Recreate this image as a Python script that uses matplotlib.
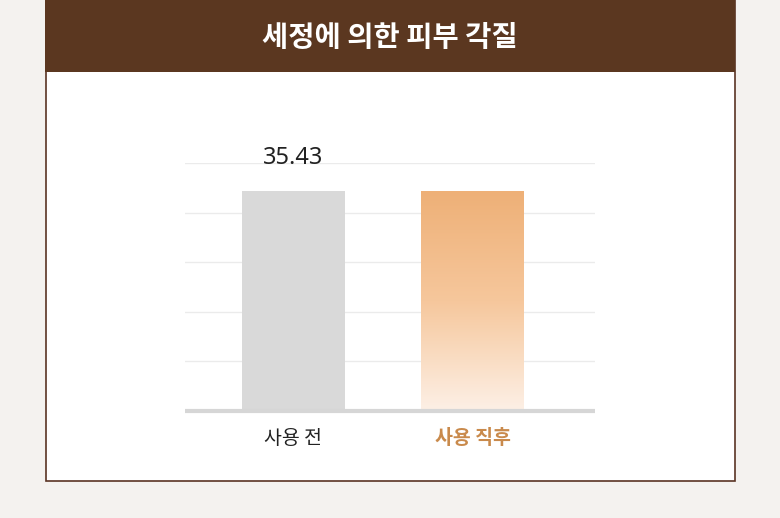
import matplotlib
matplotlib.use("Agg")
import matplotlib.pyplot as plt
import numpy as np
from matplotlib.patches import Rectangle
from matplotlib.colors import LinearSegmentedColormap

plt.rcParams['font.family'] = ['Noto Sans CJK KR', 'DejaVu Sans']

title = "세정에 의한 피부 각질"
categories = ["사용 전", "사용 직후"]
values = [35.43, 35.43]
value_labels = ["35.43", ""]
y_ticks = [0, 8, 16, 24, 32, 40]

W, H = 780, 518
fig = plt.figure(figsize=(W / 100, H / 100), dpi=100)
fig.patch.set_facecolor("#f4f2ef")

def fx(px):
    return px / W

def fy(py):
    return 1 - py / H

# card
fig.add_artist(Rectangle((fx(45.5), fy(481)), fx(689), 481 / H, transform=fig.transFigure,
                         facecolor="white", edgecolor="#5a3424", lw=1.2, zorder=0))
# header
fig.add_artist(Rectangle((fx(45), fy(72)), fx(690), 72 / H, transform=fig.transFigure,
                         facecolor="#5b3720", edgecolor="none", zorder=1))
fig.text(fx(390), fy(38), title, color="white", fontsize=20.5, fontweight="bold",
         ha="center", va="center", zorder=2)

ax = fig.add_axes([fx(185), fy(411), fx(410), (411 - 163) / H])
ax.set_facecolor("none")
x = np.arange(len(categories))
bars = ax.bar(x, values, width=0.575, color=["#d9d9d9", "none"], zorder=2)
for t in y_ticks[1:]:
    ax.axhline(t, color="#ebebeb", lw=1, zorder=1)
ax.axhline(0, color="#d6d6d6", lw=3, zorder=3, clip_on=False, solid_capstyle="butt")
for s in ax.spines.values():
    s.set_visible(False)
ax.set_xticks([])
ax.set_yticks([])

# gradient on second bar
p = bars[1]
cmap = LinearSegmentedColormap.from_list("g", ["#fdf0e6", "#f6c79c", "#eeb077"])
grad = np.linspace(0, 1, 256).reshape(-1, 1)
im = ax.imshow(grad, cmap=cmap, aspect="auto", origin="lower",
               extent=[p.get_x(), p.get_x() + p.get_width(), 0, p.get_height()], zorder=2)
im.set_clip_path(p)
ax.set_xlim(-0.606, 1.684)
ax.set_ylim(0, 40)

for xi, v, lab in zip(x, values, value_labels):
    if lab:
        ax.text(xi, v + 5.4, lab, ha="center", va="center", fontsize=17, color="#222222",
                family=["Noto Sans", "DejaVu Sans"])

label_colors = ["#222222", "#c98a4c"]
label_weights = ["normal", "bold"]
for xi, c, col, w in zip(x, categories, label_colors, label_weights):
    ax.text(xi, -4.5, c, ha="center", va="center", fontsize=14, color=col, fontweight=w)

fig.savefig("out.png", dpi=100, facecolor=fig.get_facecolor())
